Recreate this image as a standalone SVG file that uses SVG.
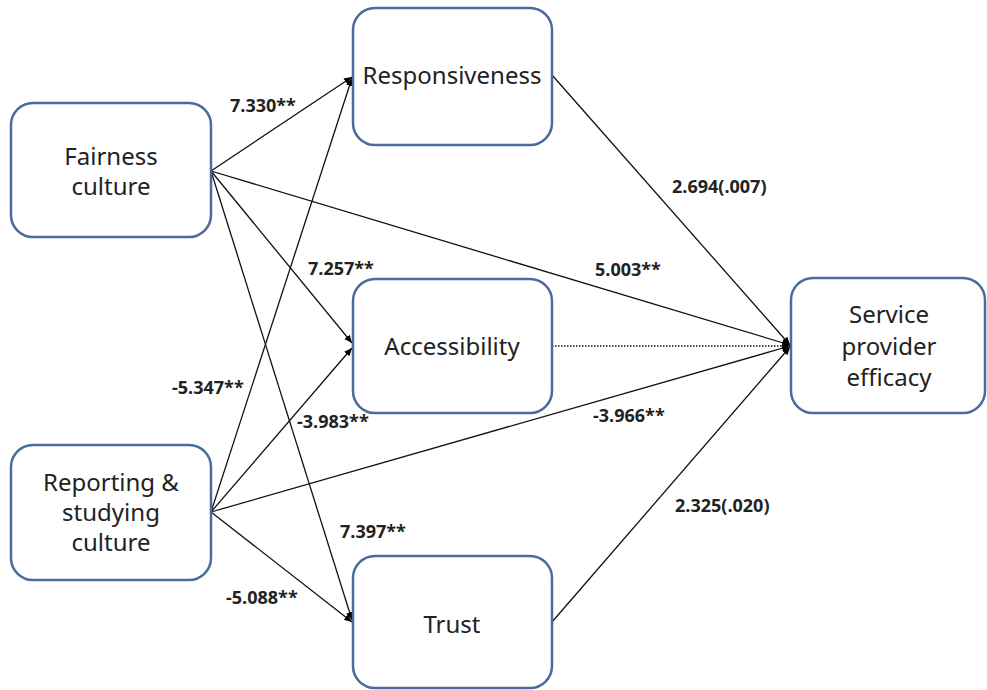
<svg xmlns="http://www.w3.org/2000/svg" width="987" height="690" viewBox="0 0 987 690">
<defs>
<marker id="ah" markerUnits="userSpaceOnUse" markerWidth="9" markerHeight="8" refX="8" refY="3.5" orient="auto">
<path d="M0,0 L8,3.5 L0,7 z" fill="#000"/>
</marker>
<style>
.box{fill:#fff;stroke:#4a6c9c;stroke-width:2.5}
.nt{font-family:"Noto Sans","Open Sans",sans-serif;font-size:24px;fill:#222;text-anchor:middle}
.lb{font-family:"Open Sans","Noto Sans",sans-serif;font-size:18px;font-weight:bold;fill:#222}
.c{stroke:#111;stroke-width:1.3;fill:none}
.a{marker-end:url(#ah)}
.d{stroke-dasharray:1.5,1.5}
</style>
</defs>
<rect width="987" height="690" fill="#fff"/>
<g id="connectors">
<line class="c a" x1="211" y1="171" x2="352" y2="77"/>
<line class="c a" x1="211" y1="171" x2="352" y2="343"/>
<line class="c a" x1="211" y1="171" x2="352" y2="620"/>
<line class="c a" x1="211" y1="171" x2="790" y2="345"/>
<line class="c a" x1="211" y1="512" x2="352" y2="78"/>
<line class="c a" x1="211" y1="512" x2="352" y2="348"/>
<line class="c a" x1="211" y1="512" x2="352" y2="622"/>
<line class="c a" x1="211" y1="512" x2="790" y2="346"/>
<line class="c a" x1="552" y1="75" x2="790" y2="345"/>
<line class="c a d" x1="552" y1="346" x2="790" y2="346"/>
<line class="c a" x1="552" y1="622" x2="790" y2="347"/>
</g>
<g id="labels">
<text class="lb" x="230" y="112">7.330**</text>
<text class="lb" x="672" y="193">2.694(.007)</text>
<text class="lb" x="308" y="275">7.257**</text>
<text class="lb" x="595" y="276">5.003**</text>
<text class="lb" x="172" y="394">-5.347**</text>
<text class="lb" x="593" y="422">-3.966**</text>
<text class="lb" x="297" y="428">-3.983**</text>
<text class="lb" x="675" y="512">2.325(.020)</text>
<text class="lb" x="340" y="538">7.397**</text>
<text class="lb" x="226" y="604">-5.088**</text>
</g>
<g id="fairness">
<rect class="box" x="11" y="103" width="200" height="134" rx="22"/>
<text class="nt" x="111" y="165">Fairness</text>
<text class="nt" x="111" y="195">culture</text>
</g>
<g id="reporting">
<rect class="box" x="11" y="445" width="200" height="135" rx="22"/>
<text class="nt" x="111" y="491">Reporting &amp;</text>
<text class="nt" x="111" y="521">studying</text>
<text class="nt" x="111" y="551">culture</text>
</g>
<g id="responsiveness">
<rect class="box" x="353" y="8" width="199" height="137" rx="22"/>
<text class="nt" x="452" y="84">Responsiveness</text>
</g>
<g id="accessibility">
<rect class="box" x="353" y="279" width="199" height="134" rx="22"/>
<text class="nt" x="452" y="355">Accessibility</text>
</g>
<g id="trust">
<rect class="box" x="353" y="556" width="199" height="132" rx="22"/>
<text class="nt" x="452" y="633">Trust</text>
</g>
<g id="efficacy">
<rect class="box" x="791" y="278" width="194" height="135" rx="22"/>
<text class="nt" x="889" y="323">Service</text>
<text class="nt" x="889" y="355">provider</text>
<text class="nt" x="889" y="386">efficacy</text>
</g>
</svg>
